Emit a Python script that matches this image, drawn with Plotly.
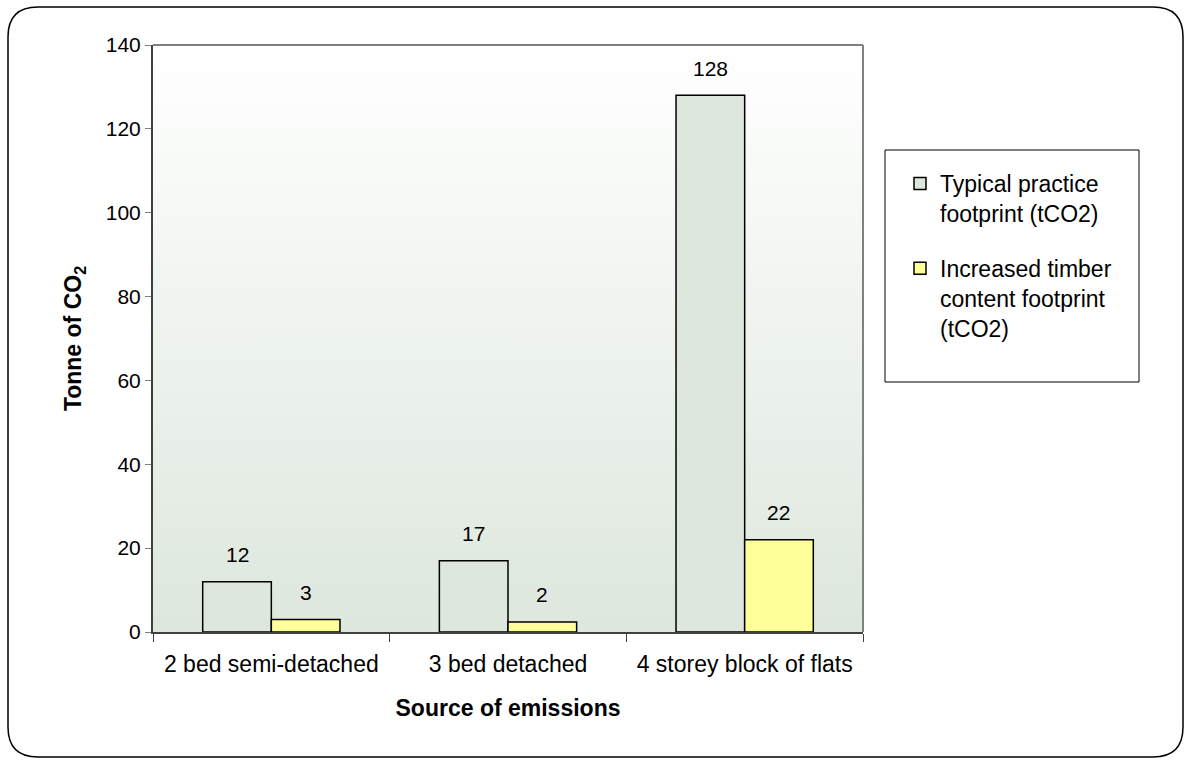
import base64
import plotly.graph_objects as go

categories = ["2 bed semi-detached", "3 bed detached", "4 storey block of flats"]
typical = [12, 17, 128]
timber = [3, 2.4, 22]
series_names = ["Typical practice<br>footprint (tCO2)", "Increased timber<br>content footprint<br>(tCO2)"]
y_ticks = [0, 20, 40, 60, 80, 100, 120, 140]

W, H = 1190, 761
L, R, T, B = 153, 863, 45, 632  # plot area in pixels


def px(x):
    return (x - L) / (R - L)


def py(y):
    return (B - y) / (B - T)


def rounded_rect(x0, y0, x1, y1, r):
    return (f"M {px(x0 + r)} {py(y0)} L {px(x1 - r)} {py(y0)} "
            f"Q {px(x1)} {py(y0)} {px(x1)} {py(y0 + r)} "
            f"L {px(x1)} {py(y1 - r)} Q {px(x1)} {py(y1)} {px(x1 - r)} {py(y1)} "
            f"L {px(x0 + r)} {py(y1)} Q {px(x0)} {py(y1)} {px(x0)} {py(y1 - r)} "
            f"L {px(x0)} {py(y0 + r)} Q {px(x0)} {py(y0)} {px(x0 + r)} {py(y0)} Z")


green = "#DDE7DD"
yellow = "#FFFF99"
fam = "Liberation Sans, Arial"

svg = (f'<svg xmlns="http://www.w3.org/2000/svg" width="100" height="100" preserveAspectRatio="none">'
       f'<defs><linearGradient id="g" x1="0" y1="0" x2="0" y2="1">'
       f'<stop offset="0" stop-color="#FFFFFF"/><stop offset="1" stop-color="{green}"/>'
       f'</linearGradient></defs><rect width="100" height="100" fill="url(#g)"/></svg>')
bg_uri = "data:image/svg+xml;base64," + base64.b64encode(svg.encode()).decode()

fig = go.Figure()
fig.add_trace(go.Bar(x=categories, y=typical, name=series_names[0], legendgroup="a",
                     marker=dict(color=green, line=dict(color="black", width=1.5))))
fig.add_trace(go.Bar(x=categories, y=timber, name=series_names[1], legendgroup="b",
                     marker=dict(color=yellow, line=dict(color="black", width=1.5))))

bargap = 0.42
half = (1 - bargap) / 4
annotations = []
for i, (a, b) in enumerate(zip(typical, timber)):
    for off, v in ((-half, a), (half, b)):
        annotations.append(dict(x=i + off, y=v, xref="x", yref="y", text=f"{v:.0f}",
                                showarrow=False, yshift=27,
                                font=dict(family=fam, size=21, color="black")))

fig.update_layout(
    width=W, height=H,
    margin=dict(l=L, r=W - R, t=T, b=H - B),
    paper_bgcolor="white",
    plot_bgcolor="rgba(0,0,0,0)",
    barmode="group",
    bargap=bargap,
    bargroupgap=0,
    font=dict(family=fam, size=21, color="black"),
    showlegend=True,
    legend=dict(x=px(900), y=py(162), xanchor="left", yanchor="top",
                font=dict(family=fam, size=23, color="black"),
                bgcolor="rgba(0,0,0,0)", borderwidth=0, valign="top",
                tracegroupgap=22, traceorder="grouped", itemwidth=30),
    xaxis=dict(
        title=dict(text="<b>Source of emissions</b>", standoff=24,
                   font=dict(family=fam, size=23)),
        showline=True, linecolor="#404040", linewidth=2,
        ticks="outside", tickson="boundaries", ticklen=8, tickcolor="#404040",
        ticklabelstandoff=10,
        tickfont=dict(family=fam, size=23, color="black"), range=[-0.5, 2.5],
    ),
    yaxis=dict(
        title=dict(text="<b>Tonne of CO<sub>2</sub></b>", standoff=18,
                   font=dict(family=fam, size=23)),
        range=[0, 140], tickvals=y_ticks, showgrid=False, zeroline=False,
        showline=True, linecolor="#404040", linewidth=2,
        ticks="outside", ticklen=6, tickcolor="#808080",
        tickfont=dict(family=fam, size=21, color="black"),
    ),
    images=[dict(source=bg_uri, xref="paper", yref="paper", x=0, y=1, sizex=1, sizey=1,
                 sizing="stretch", layer="below")],
    shapes=[
        # top and right plot frame
        dict(type="line", xref="paper", yref="paper", x0=0, x1=1, y0=1, y1=1,
             line=dict(color="#808080", width=2)),
        dict(type="line", xref="paper", yref="paper", x0=1, x1=1, y0=0, y1=1,
             line=dict(color="#808080", width=2)),
        # legend box
        dict(type="rect", xref="paper", yref="paper", x0=px(885), x1=px(1139), y0=py(150), y1=py(382),
             line=dict(color="black", width=1), fillcolor="white", layer="below"),
        # outer rounded border
        dict(type="path", xref="paper", yref="paper", path=rounded_rect(8, 7, 1183, 757, 30),
             line=dict(color="black", width=1.5)),
    ],
    annotations=annotations,
)

fig.write_html("out.html", config={"displayModeBar": False},
               post_script="document.body.style.margin='0';")
